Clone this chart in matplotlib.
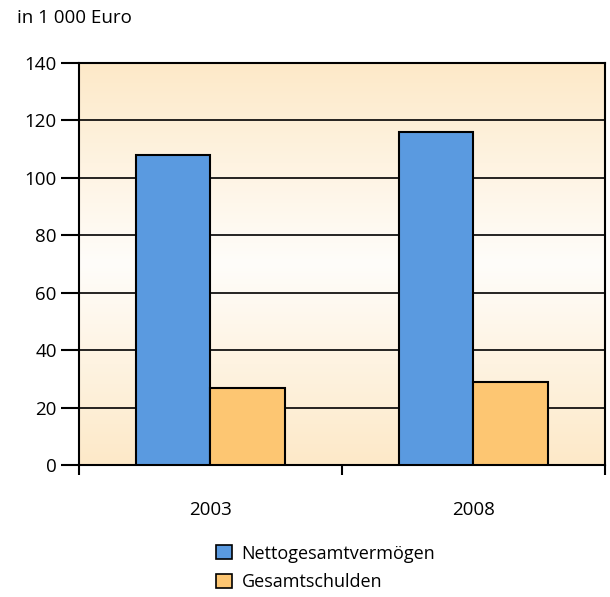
import numpy as np
import matplotlib.pyplot as plt
from matplotlib.colors import LinearSegmentedColormap
from matplotlib.patches import Patch

plt.rcParams['font.family'] = ['Open Sans', 'DejaVu Sans']

years = ["2003", "2008"]
netto = [108, 116]
schulden = [27, 29]
series_names = ["Nettogesamtvermögen", "Gesamtschulden"]

blue = "#5a9ae0"
orange = "#fdc672"

fig = plt.figure(figsize=(6.10, 5.97), dpi=100)
ax = fig.add_axes([0.1295, 0.221, 0.8623, 0.6735])

# background gradient: orange at top and bottom, almost white in the middle
cmap = LinearSegmentedColormap.from_list("bg", ["#fde9c8", "#fffdfa", "#fde9c8"])
grad = np.linspace(0, 1, 256).reshape(-1, 1)
ax.imshow(grad, aspect="auto", cmap=cmap, extent=[0, 2, 0, 140], origin="lower", zorder=0)

x = np.arange(len(years)) + 0.5
w = 0.285
ax.bar(x - w / 2, netto, w, color=blue, edgecolor="black", linewidth=1.5, zorder=3)
ax.bar(x + w / 2, schulden, w, color=orange, edgecolor="black", linewidth=1.5, zorder=3)

ax.set_xlim(0, 2)
ax.set_ylim(0, 140)
ax.set_yticks(np.arange(0, 141, 20))
ax.yaxis.grid(True, color="black", linewidth=1.2, zorder=1)
ax.set_axisbelow(True)

ax.set_xticks([0, 1, 2])
ax.set_xticklabels([])
ax.set_xticks(x, minor=True)
ax.set_xticklabels(years, minor=True)
ax.tick_params(axis="x", which="major", length=7, width=1.5, direction="out")
ax.tick_params(axis="x", which="minor", length=0, pad=26, labelsize=13.5)
ax.tick_params(axis="y", length=13, width=1.5, labelsize=13.5, pad=3)

for s in ax.spines.values():
    s.set_linewidth(1.5)
    s.set_color("black")

fig.text(0.028, 0.985, "in 1 000 Euro", fontsize=13.5, ha="left", va="top")

handles = [Patch(facecolor=blue, edgecolor="black", linewidth=1.2),
           Patch(facecolor=orange, edgecolor="black", linewidth=1.2)]
fig.legend(handles, series_names, loc="upper left", bbox_to_anchor=(0.34, 0.103),
           frameon=False, fontsize=13, handlelength=0.85, handleheight=0.85,
           handletextpad=0.55, labelspacing=0.58, borderpad=0)

fig.savefig("out.png", dpi=100)
